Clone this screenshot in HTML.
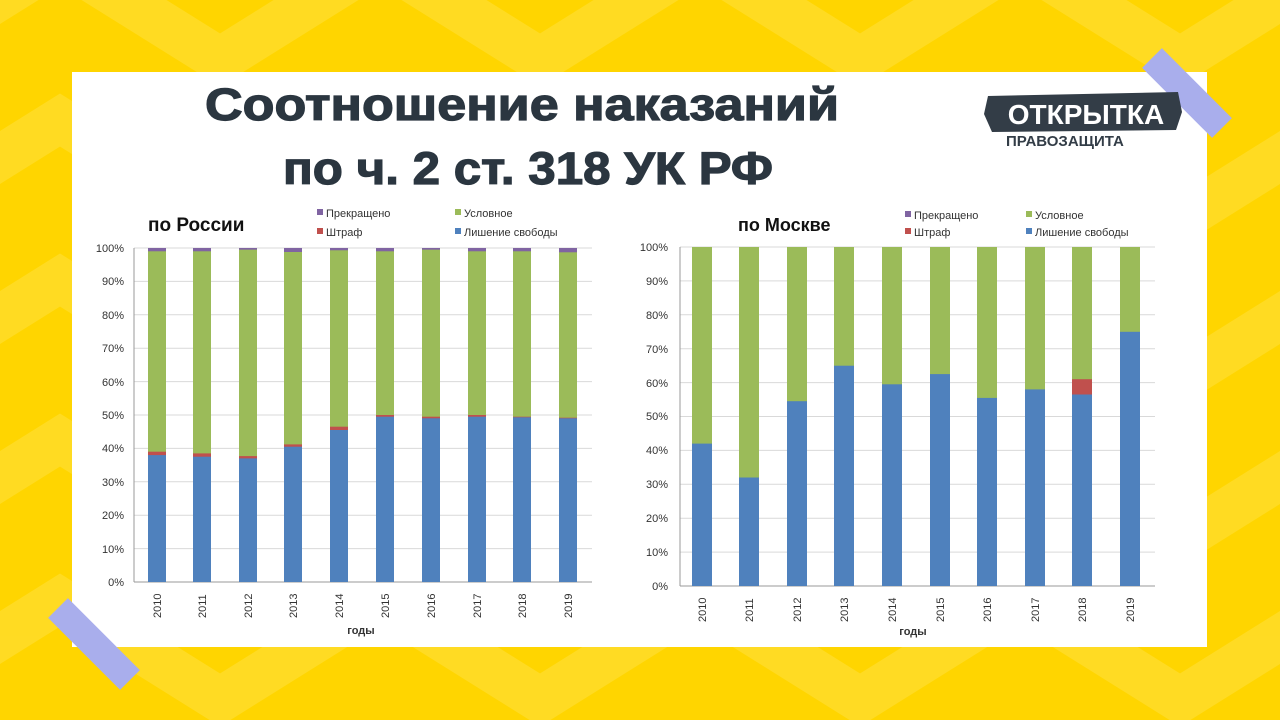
<!DOCTYPE html>
<html><head><meta charset="utf-8"><style>
html,body{margin:0;padding:0;width:1280px;height:720px;overflow:hidden;background:#FFD500}
svg{display:block}
</style></head><body>
<svg width="1280" height="720" xmlns="http://www.w3.org/2000/svg" font-family="Liberation Sans, DejaVu Sans, sans-serif">
<rect width="1280" height="720" fill="#FFD500"/>
<g fill="none" stroke="#FFE03A" stroke-width="45" opacity="0.6">
<polyline points="-100,60 60,-40 220,60 380,-40 540,60 700,-40 860,60 1020,-40 1180,60 1340,-40"/>
<polyline points="-100,220 60,120 220,220 380,120 540,220 700,120 860,220 1020,120 1180,220 1340,120"/>
<polyline points="-100,380 60,280 220,380 380,280 540,380 700,280 860,380 1020,280 1180,380 1340,280"/>
<polyline points="-100,540 60,440 220,540 380,440 540,540 700,440 860,540 1020,440 1180,540 1340,440"/>
<polyline points="-100,700 60,600 220,700 380,600 540,700 700,600 860,700 1020,600 1180,700 1340,600"/>
</g>
<rect x="72" y="72" width="1135" height="575" fill="#fff"/>
<line x1="1152" y1="58" x2="1222" y2="128" stroke="#A9AEEC" stroke-width="28"/>
<line x1="58" y1="608" x2="130" y2="680" stroke="#A9AEEC" stroke-width="28"/>
<g font-weight="bold" fill="#2B3640" font-size="45" stroke="#2B3640" stroke-width="1.2">
<text x="205" y="120" textLength="634" lengthAdjust="spacingAndGlyphs">Соотношение наказаний</text>
<text x="283" y="184" textLength="490" lengthAdjust="spacingAndGlyphs">по ч. 2 ст. 318 УК РФ</text>
</g>
<path d="M988,96 L1178,92 L1182,112 L1176,130 L992,132 L984,114 Z" fill="#333D47"/>
<text x="1086" y="124" text-anchor="middle" font-weight="bold" font-size="28" fill="#fff">ОТКРЫТКА</text>
<text x="1006" y="146" font-size="15" fill="#333D47" font-weight="bold">ПРАВОЗАЩИТА</text>

<!-- Left chart -->
<g stroke="#D9D9D9" stroke-width="1">
<line x1="134" y1="248" x2="592" y2="248"/><line x1="134" y1="281.4" x2="592" y2="281.4"/><line x1="134" y1="314.8" x2="592" y2="314.8"/><line x1="134" y1="348.2" x2="592" y2="348.2"/><line x1="134" y1="381.6" x2="592" y2="381.6"/><line x1="134" y1="415" x2="592" y2="415"/><line x1="134" y1="448.4" x2="592" y2="448.4"/><line x1="134" y1="481.8" x2="592" y2="481.8"/><line x1="134" y1="515.2" x2="592" y2="515.2"/><line x1="134" y1="548.6" x2="592" y2="548.6"/>
</g>
<line x1="134" y1="582" x2="592" y2="582" stroke="#999"/>
<line x1="134" y1="248" x2="134" y2="582" stroke="#999"/>
<g font-size="11" fill="#333" text-anchor="end">
<text x="124" y="252">100%</text><text x="124" y="285">90%</text><text x="124" y="319">80%</text><text x="124" y="352">70%</text><text x="124" y="386">60%</text><text x="124" y="419">50%</text><text x="124" y="452">40%</text><text x="124" y="486">30%</text><text x="124" y="519">20%</text><text x="124" y="553">10%</text><text x="124" y="586">0%</text>
</g>
<g>
<rect x="148" y="248" width="18" height="334" fill="#8064A2"/><rect x="148" y="251.3" width="18" height="330.7" fill="#9BBB59"/><rect x="148" y="451.7" width="18" height="130.3" fill="#C0504D"/><rect x="148" y="455.1" width="18" height="126.9" fill="#4F81BD"/>
<rect x="193" y="248" width="18" height="334" fill="#8064A2"/><rect x="193" y="251.3" width="18" height="330.7" fill="#9BBB59"/><rect x="193" y="453.4" width="18" height="128.6" fill="#C0504D"/><rect x="193" y="456.7" width="18" height="125.3" fill="#4F81BD"/>
<rect x="239" y="248" width="18" height="334" fill="#8064A2"/><rect x="239" y="249.7" width="18" height="332.3" fill="#9BBB59"/><rect x="239" y="456.1" width="18" height="125.9" fill="#C0504D"/><rect x="239" y="458.4" width="18" height="123.6" fill="#4F81BD"/>
<rect x="284" y="248" width="18" height="334" fill="#8064A2"/><rect x="284" y="252" width="18" height="330" fill="#9BBB59"/><rect x="284" y="444.4" width="18" height="137.6" fill="#C0504D"/><rect x="284" y="446.7" width="18" height="135.3" fill="#4F81BD"/>
<rect x="330" y="248" width="18" height="334" fill="#8064A2"/><rect x="330" y="250.3" width="18" height="331.7" fill="#9BBB59"/><rect x="330" y="426.7" width="18" height="155.3" fill="#C0504D"/><rect x="330" y="430" width="18" height="152" fill="#4F81BD"/>
<rect x="376" y="248" width="18" height="334" fill="#8064A2"/><rect x="376" y="251.3" width="18" height="330.7" fill="#9BBB59"/><rect x="376" y="415" width="18" height="167" fill="#C0504D"/><rect x="376" y="416.7" width="18" height="165.3" fill="#4F81BD"/>
<rect x="422" y="248" width="18" height="334" fill="#8064A2"/><rect x="422" y="249.7" width="18" height="332.3" fill="#9BBB59"/><rect x="422" y="416.7" width="18" height="165.3" fill="#C0504D"/><rect x="422" y="418.3" width="18" height="163.7" fill="#4F81BD"/>
<rect x="468" y="248" width="18" height="334" fill="#8064A2"/><rect x="468" y="251.3" width="18" height="330.7" fill="#9BBB59"/><rect x="468" y="415" width="18" height="167" fill="#C0504D"/><rect x="468" y="416.7" width="18" height="165.3" fill="#4F81BD"/>
<rect x="513" y="248" width="18" height="334" fill="#8064A2"/><rect x="513" y="251.3" width="18" height="330.7" fill="#9BBB59"/><rect x="513" y="416.7" width="18" height="165.3" fill="#C0504D"/><rect x="513" y="417.3" width="18" height="164.7" fill="#4F81BD"/>
<rect x="559" y="248" width="18" height="334" fill="#8064A2"/><rect x="559" y="252.3" width="18" height="329.7" fill="#9BBB59"/><rect x="559" y="417.7" width="18" height="164.3" fill="#C0504D"/><rect x="559" y="418.3" width="18" height="163.7" fill="#4F81BD"/>
</g>
<g font-size="11" fill="#333">
<text transform="translate(161,618) rotate(-90)">2010</text><text transform="translate(206,618) rotate(-90)">2011</text><text transform="translate(252,618) rotate(-90)">2012</text><text transform="translate(297,618) rotate(-90)">2013</text><text transform="translate(343,618) rotate(-90)">2014</text><text transform="translate(389,618) rotate(-90)">2015</text><text transform="translate(435,618) rotate(-90)">2016</text><text transform="translate(481,618) rotate(-90)">2017</text><text transform="translate(526,618) rotate(-90)">2018</text><text transform="translate(572,618) rotate(-90)">2019</text>
</g>
<text x="361" y="634" font-size="11" font-weight="bold" text-anchor="middle" fill="#333">годы</text>
<text x="148" y="231" font-size="19" font-weight="bold" fill="#111">по России</text>
<g font-size="11" fill="#333">
<rect x="317" y="209" width="6" height="6" fill="#8064A2"/><text x="326" y="217">Прекращено</text>
<rect x="455" y="209" width="6" height="6" fill="#9BBB59"/><text x="464" y="217">Условное</text>
<rect x="317" y="228" width="6" height="6" fill="#C0504D"/><text x="326" y="236">Штраф</text>
<rect x="455" y="228" width="6" height="6" fill="#4F81BD"/><text x="464" y="236">Лишение свободы</text>
</g>

<!-- Right chart -->
<g stroke="#D9D9D9" stroke-width="1">
<line x1="680" y1="247" x2="1155" y2="247"/><line x1="680" y1="280.9" x2="1155" y2="280.9"/><line x1="680" y1="314.8" x2="1155" y2="314.8"/><line x1="680" y1="348.7" x2="1155" y2="348.7"/><line x1="680" y1="382.6" x2="1155" y2="382.6"/><line x1="680" y1="416.5" x2="1155" y2="416.5"/><line x1="680" y1="450.4" x2="1155" y2="450.4"/><line x1="680" y1="484.3" x2="1155" y2="484.3"/><line x1="680" y1="518.2" x2="1155" y2="518.2"/><line x1="680" y1="552.1" x2="1155" y2="552.1"/>
</g>
<line x1="680" y1="586" x2="1155" y2="586" stroke="#999"/>
<line x1="680" y1="247" x2="680" y2="586" stroke="#999"/>
<g font-size="11" fill="#333" text-anchor="end">
<text x="668" y="251">100%</text><text x="668" y="285">90%</text><text x="668" y="319">80%</text><text x="668" y="353">70%</text><text x="668" y="387">60%</text><text x="668" y="420">50%</text><text x="668" y="454">40%</text><text x="668" y="488">30%</text><text x="668" y="522">20%</text><text x="668" y="556">10%</text><text x="668" y="590">0%</text>
</g>
<g fill="#9BBB59">
<rect x="692" y="247" width="20" height="339"/><rect x="739" y="247" width="20" height="339"/><rect x="787" y="247" width="20" height="339"/><rect x="834" y="247" width="20" height="339"/><rect x="882" y="247" width="20" height="339"/><rect x="930" y="247" width="20" height="339"/><rect x="977" y="247" width="20" height="339"/><rect x="1025" y="247" width="20" height="339"/><rect x="1072" y="247" width="20" height="339"/><rect x="1120" y="247" width="20" height="339"/>
</g>
<rect x="1072" y="379.2" width="20" height="206.8" fill="#C0504D"/>
<g fill="#4F81BD">
<rect x="692" y="443.6" width="20" height="142.4"/><rect x="739" y="477.5" width="20" height="108.5"/><rect x="787" y="401.2" width="20" height="184.8"/><rect x="834" y="365.7" width="20" height="220.3"/><rect x="882" y="384.3" width="20" height="201.7"/><rect x="930" y="374.1" width="20" height="211.9"/><rect x="977" y="397.9" width="20" height="188.1"/><rect x="1025" y="389.4" width="20" height="196.6"/><rect x="1072" y="394.5" width="20" height="191.5"/><rect x="1120" y="331.8" width="20" height="254.2"/>
</g>
<g font-size="11" fill="#333">
<text transform="translate(706,622) rotate(-90)">2010</text><text transform="translate(753,622) rotate(-90)">2011</text><text transform="translate(801,622) rotate(-90)">2012</text><text transform="translate(848,622) rotate(-90)">2013</text><text transform="translate(896,622) rotate(-90)">2014</text><text transform="translate(944,622) rotate(-90)">2015</text><text transform="translate(991,622) rotate(-90)">2016</text><text transform="translate(1039,622) rotate(-90)">2017</text><text transform="translate(1086,622) rotate(-90)">2018</text><text transform="translate(1134,622) rotate(-90)">2019</text>
</g>
<text x="913" y="635" font-size="11" font-weight="bold" text-anchor="middle" fill="#333">годы</text>
<text x="738" y="231" font-size="18" font-weight="bold" fill="#111">по Москве</text>
<g font-size="11" fill="#333">
<rect x="905" y="211" width="6" height="6" fill="#8064A2"/><text x="914" y="219">Прекращено</text>
<rect x="1026" y="211" width="6" height="6" fill="#9BBB59"/><text x="1035" y="219">Условное</text>
<rect x="905" y="228" width="6" height="6" fill="#C0504D"/><text x="914" y="236">Штраф</text>
<rect x="1026" y="228" width="6" height="6" fill="#4F81BD"/><text x="1035" y="236">Лишение свободы</text>
</g>
</svg>
</body></html>
